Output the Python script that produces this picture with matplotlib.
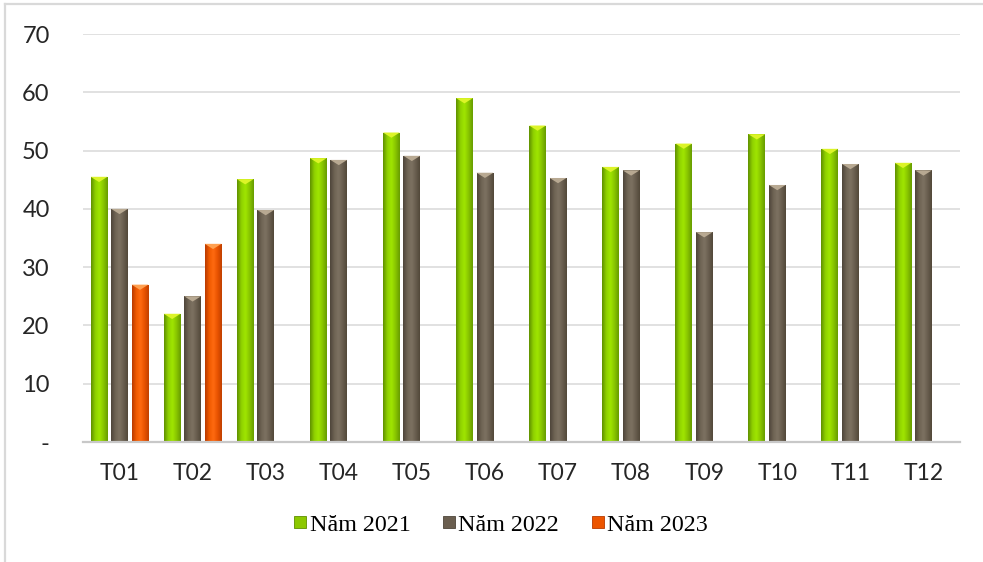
import numpy as np
import matplotlib
matplotlib.use("Agg")
import matplotlib.pyplot as plt
from matplotlib.colors import LinearSegmentedColormap
from matplotlib.lines import Line2D
from matplotlib.patches import Polygon

months = ["T01", "T02", "T03", "T04", "T05", "T06",
          "T07", "T08", "T09", "T10", "T11", "T12"]
y2021 = [45.5, 22.0, 45.1, 48.7, 53.1, 59.0, 54.3, 47.2, 51.2, 52.8, 50.3, 47.9]
y2022 = [40.0, 25.0, 39.8, 48.4, 49.1, 46.2, 45.3, 46.6, 36.0, 44.1, 47.7, 46.6]
y2023 = [27.0, 34.0] + [np.nan] * 10
series_labels = ["Năm 2021", "Năm 2022", "Năm 2023"]
yticks = [0, 10, 20, 30, 40, 50, 60, 70]
ytick_labels = ["-", "10", "20", "30", "40", "50", "60", "70"]

# colours: (gradient stops left->right, flat colour, bevel colour)
styles = [
    (["#5f8f00", "#8fd000", "#a0e600", "#88c400", "#679c00"], "#8cc800", "#dcf428"),
    (["#4e453a", "#6e6353", "#7d7262", "#695e4f", "#524839"], "#6b5f50", "#b8a992"),
    (["#b83a00", "#f05a00", "#ff6a10", "#e85200", "#c04000"], "#ec5500", "#ffa050"),
]

TICK_FONT = ["Lato", "DejaVu Sans"]

fig = plt.figure(figsize=(9.83, 5.62), dpi=100)
ax = fig.add_axes([0.0844, 0.2135, 0.8922, 0.726])

x = np.arange(len(months))
offsets = [-0.28, 0.0, 0.28]
width = 0.23

for vals, off, (stops, flat, bevel) in zip([y2021, y2022, y2023], offsets, styles):
    cmap = LinearSegmentedColormap.from_list("g", stops)
    grad = np.linspace(0, 1, 64).reshape(1, -1)
    bars = ax.bar(x + off, vals, width, color=flat, edgecolor="none", zorder=2)
    for b in bars:
        h = b.get_height()
        if not np.isfinite(h) or h <= 0:
            continue
        x0, w = b.get_x(), b.get_width()
        im = ax.imshow(grad, extent=[x0, x0 + w, 0, h], aspect="auto",
                       cmap=cmap, zorder=3, interpolation="bicubic")
        im.set_clip_path(b)
        # bevelled top
        tri = Polygon([[x0, h], [x0 + w, h], [x0 + w / 2, h - 0.9]],
                      closed=True, facecolor=bevel, edgecolor="none", zorder=4)
        ax.add_patch(tri)

ax.set_xlim(-0.5, len(months) - 0.5)
ax.set_ylim(0, 70)

ax.set_yticks(yticks)
ax.set_yticklabels(ytick_labels, fontsize=17, family=TICK_FONT, color="#262626")
ax.set_xticks(x)
ax.set_xticklabels(months, fontsize=16.5, family=TICK_FONT, color="#262626")
ax.tick_params(axis="y", length=0, pad=24)
ax.tick_params(axis="x", length=0, pad=15)

ax.grid(True, axis="y", color="#d9d9d9", linewidth=1.1, zorder=0)
ax.set_axisbelow(True)
for side in ["top", "right", "left"]:
    ax.spines[side].set_visible(False)
ax.spines["bottom"].set_color("#c8c8c8")
ax.spines["bottom"].set_linewidth(1.6)
ax.spines["bottom"].set_zorder(5)

handles = [Line2D([], [], linestyle="none", marker="s", markersize=8.5,
                  markerfacecolor=s[1], markeredgecolor=s[0][0], markeredgewidth=0.6)
           for s in styles]
fig.legend(handles, series_labels, loc="center", bbox_to_anchor=(0.509, 0.066),
           ncol=3, frameon=False, handlelength=0.6, handletextpad=0.1,
           columnspacing=1.3, prop={"family": ["Liberation Serif"], "size": 17.3})

# outer chart frame
fig.add_artist(Line2D([0.005, 1.0], [0.993, 0.993], transform=fig.transFigure,
                      color="#d9d9d9", linewidth=1.6))
fig.add_artist(Line2D([0.005, 0.005], [0.0, 0.993], transform=fig.transFigure,
                      color="#d9d9d9", linewidth=1.6))

fig.savefig("out.png", dpi=100, facecolor="white")
